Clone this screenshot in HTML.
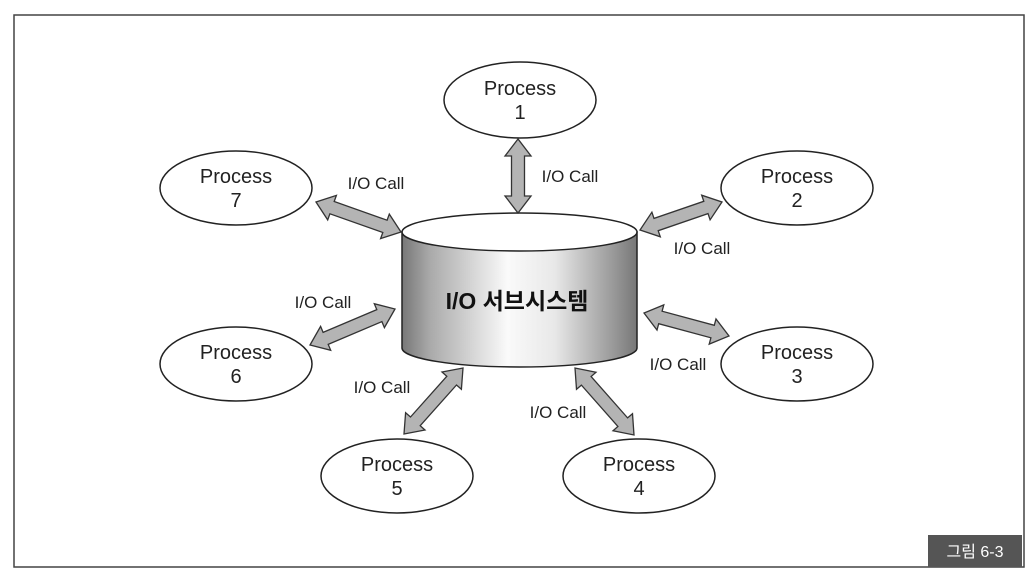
<!DOCTYPE html>
<html><head><meta charset="utf-8"><style>
body{margin:0;background:#fff;}
svg{display:block}
text{font-family:"Liberation Sans","Noto Sans CJK KR",sans-serif;fill:#222}
</style></head><body>
<svg id="s" width="1036" height="582" viewBox="0 0 1036 582">
<defs>
<linearGradient id="g" x1="0" x2="1" y1="0" y2="0">
<stop offset="0" stop-color="#777"/><stop offset="0.12" stop-color="#aaa"/><stop offset="0.45" stop-color="#fafafa"/><stop offset="0.65" stop-color="#e8e8e8"/><stop offset="0.9" stop-color="#999"/><stop offset="1" stop-color="#777"/>
</linearGradient>
</defs>
<path d="M14 15 H1024 V567 H14 Z" fill="none" stroke="#444" stroke-width="1.5"/>
<path d="M402 232 V348 A117.5 19 0 0 0 637 348 V232 Z" fill="url(#g)" stroke="#222" stroke-width="1.5"/>
<ellipse cx="519.5" cy="232" rx="117.5" ry="19" fill="#fff" stroke="#222" stroke-width="1.5"/>
<text x="517" y="309" text-anchor="middle" font-size="23" font-weight="bold" style="fill:#111">I/O 서브시스템</text>
<g id="arrows"></g>
<g fill="#fff" stroke="#222" stroke-width="1.5">
<ellipse cx="520" cy="100" rx="76" ry="38"/>
<ellipse cx="236" cy="188" rx="76" ry="37"/>
<ellipse cx="797" cy="188" rx="76" ry="37"/>
<ellipse cx="236" cy="364" rx="76" ry="37"/>
<ellipse cx="797" cy="364" rx="76" ry="37"/>
<ellipse cx="397" cy="476" rx="76" ry="37"/>
<ellipse cx="639" cy="476" rx="76" ry="37"/>
</g>
<g font-size="20" text-anchor="middle">
<text x="520" y="95">Process</text><text x="520" y="119">1</text>
<text x="236" y="183">Process</text><text x="236" y="207">7</text>
<text x="797" y="183">Process</text><text x="797" y="207">2</text>
<text x="236" y="359">Process</text><text x="236" y="383">6</text>
<text x="797" y="359">Process</text><text x="797" y="383">3</text>
<text x="397" y="471">Process</text><text x="397" y="495">5</text>
<text x="639" y="471">Process</text><text x="639" y="495">4</text>
</g>
<g font-size="17" text-anchor="middle">
<text x="376" y="189">I/O Call</text>
<text x="570" y="182">I/O Call</text>
<text x="702" y="254">I/O Call</text>
<text x="323" y="308">I/O Call</text>
<text x="678" y="370">I/O Call</text>
<text x="382" y="393">I/O Call</text>
<text x="558" y="418">I/O Call</text>
</g>
<rect x="928" y="535" width="94" height="32" fill="#555"/>
<text x="975" y="557" text-anchor="middle" font-size="16" style="fill:#fff">그림 6-3</text>
</svg>
<script>
var A=[[518,139,518,213],[316,202,401,232],[640,230,722,202],[310,345,395,309],[644,313,729,336],[404,434,463,368],[575,368,634,435]];
var g=document.getElementById('arrows'),h='';
A.forEach(function(a){var dx=a[2]-a[0],dy=a[3]-a[1],L=Math.hypot(dx,dy),ux=dx/L,uy=dy/L,nx=-uy,ny=ux,hl=17,hw=13,sw=6.5;
var pts=[[0,0],[hl,hw],[hl,sw],[L-hl,sw],[L-hl,hw],[L,0],[L-hl,-hw],[L-hl,-sw],[hl,-sw],[hl,-hw]];
h+='<polygon points="'+pts.map(function(p){return (a[0]+ux*p[0]+nx*p[1]).toFixed(1)+','+(a[1]+uy*p[0]+ny*p[1]).toFixed(1)}).join(' ')+'" fill="#b4b4b4" stroke="#333" stroke-width="1.3"/>';});
g.innerHTML=h;
</script>
</body></html>
